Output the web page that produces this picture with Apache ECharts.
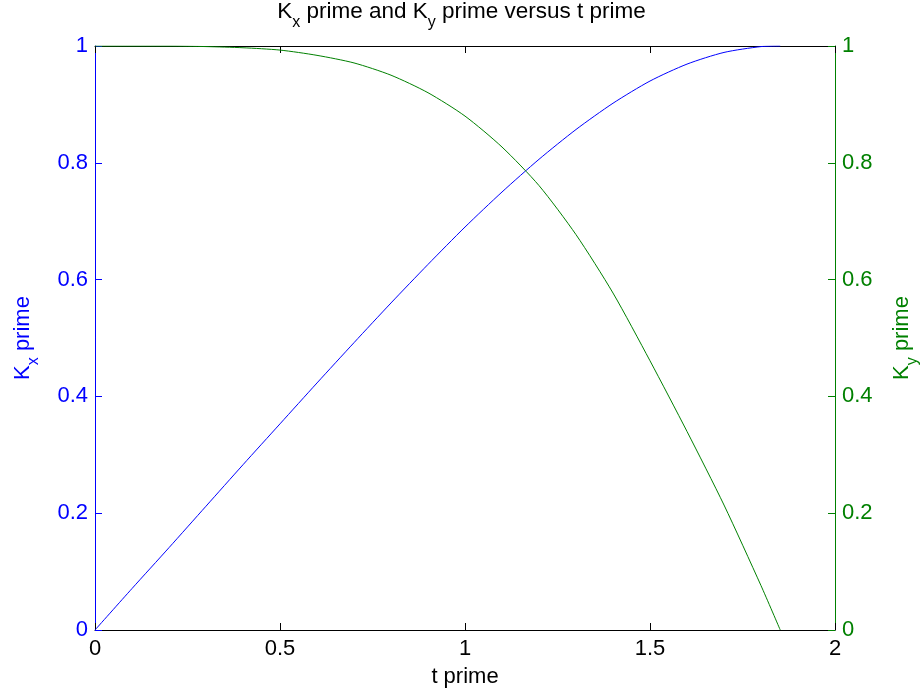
<!DOCTYPE html>
<html>
<head>
<meta charset="utf-8">
<script src="https://cdn.jsdelivr.net/npm/echarts@6/dist/echarts.min.js"></script>
<style>
  html, body { margin: 0; padding: 0; background: #fff; }
  #chart { width: 923px; height: 697px; }
</style>
</head>
<body>
<div id="chart"></div>
<script>
// values (both curves meet their limits at t' = 1.852)
const tPrime = [0, 0.1, 0.2, 0.3, 0.4, 0.5, 0.6, 0.7, 0.8, 0.9, 1.0, 1.1, 1.2, 1.3, 1.4, 1.5, 1.6, 1.7, 1.8, 1.852];
const kxPrime = [0, 0.071, 0.141, 0.212, 0.283, 0.353, 0.423, 0.492, 0.560, 0.626, 0.690, 0.750, 0.806, 0.857, 0.902, 0.940, 0.969, 0.989, 0.999, 1];
const kyPrime = [1, 1, 1, 0.999, 0.997, 0.993, 0.984, 0.971, 0.950, 0.920, 0.880, 0.827, 0.761, 0.677, 0.577, 0.461, 0.340, 0.214, 0.076, 0];
const xTicks = [0, 0.5, 1, 1.5, 2];
const yTicks = [0, 0.2, 0.4, 0.6, 0.8, 1];

const BLUE = '#0000ff';
const GREEN = '#008000';
const FONT = 'Liberation Sans, Arial, Helvetica, sans-serif';

function pairs(xs, ys) {
    return xs.map((x, i) => [x, ys[i]]);
}

// rich text styles for subscripts
function richFor(color, size, subSize) {
    return {
        n: { fontFamily: FONT, fontSize: size, fontWeight: 'normal', color: color, lineHeight: size + 2 },
        s: { fontFamily: FONT, fontSize: subSize, fontWeight: 'normal', color: color, lineHeight: size + 2, padding: [21, 0, 0, 0] }
    };
}

const chart = echarts.init(document.getElementById('chart'), null, { renderer: 'canvas' });

const option = {
    animation: false,
    backgroundColor: '#fff',
    title: {
        text: '{n|K}{s|x}{n| prime and K}{s|y}{n| prime versus t prime}',
        left: 'center',
        top: 0,
        padding: 0,
        textStyle: { fontWeight: 'normal', rich: richFor('#000', 22.5, 16) }
    },
    grid: { left: 95, right: 88, top: 46, bottom: 67, containLabel: false, outerBoundsMode: 'none' },
    xAxis: [
        {
            type: 'value',
            position: 'bottom',
            min: xTicks[0],
            max: xTicks[xTicks.length - 1],
            interval: 0.5,
            name: 't prime',
            nameLocation: 'middle',
            nameGap: 36,
            nameTextStyle: { fontFamily: FONT, fontSize: 22, color: '#000' },
            axisLine: { onZero: false, lineStyle: { color: '#000', width: 1 } },
            axisTick: { inside: true, length: 7, lineStyle: { color: '#000' } },
            axisLabel: { margin: 8, fontFamily: FONT, fontSize: 22, color: '#000' },
            splitLine: { show: false }
        },
        {
            type: 'value',
            position: 'top',
            min: xTicks[0],
            max: xTicks[xTicks.length - 1],
            interval: 0.5,
            axisLine: { onZero: false, lineStyle: { color: '#000', width: 1 } },
            axisTick: { inside: true, length: 7, lineStyle: { color: '#000' } },
            axisLabel: { show: false },
            splitLine: { show: false }
        }
    ],
    yAxis: [
        {
            type: 'value',
            position: 'left',
            min: yTicks[0],
            max: yTicks[yTicks.length - 1],
            interval: 0.2,
            name: '{n|K}{s|x}{n| prime}',
            nameLocation: 'middle',
            nameRotate: 90,
            nameGap: 60,
            nameTextStyle: { rich: richFor(BLUE, 22, 16) },
            axisLine: { onZero: false, lineStyle: { color: BLUE, width: 1 } },
            axisTick: { inside: true, length: 7, lineStyle: { color: BLUE } },
            axisLabel: { margin: 7, fontFamily: FONT, fontSize: 22, color: BLUE },
            splitLine: { show: false }
        },
        {
            type: 'value',
            position: 'right',
            min: yTicks[0],
            max: yTicks[yTicks.length - 1],
            interval: 0.2,
            name: '{n|K}{s|y}{n| prime}',
            nameLocation: 'middle',
            nameRotate: 90,
            nameGap: 55,
            nameTextStyle: { rich: richFor(GREEN, 22, 16) },
            axisLine: { onZero: false, lineStyle: { color: GREEN, width: 1 } },
            axisTick: { inside: true, length: 7, lineStyle: { color: GREEN } },
            axisLabel: { margin: 7, fontFamily: FONT, fontSize: 22, color: GREEN },
            splitLine: { show: false }
        }
    ],
    series: [
        {
            name: 'Kx prime',
            type: 'line',
            xAxisIndex: 0,
            yAxisIndex: 0,
            data: pairs(tPrime, kxPrime),
            smooth: 0.25,
            showSymbol: false,
            lineStyle: { color: BLUE, width: 1 },
            itemStyle: { color: BLUE }
        },
        {
            name: 'Ky prime',
            type: 'line',
            xAxisIndex: 0,
            yAxisIndex: 1,
            data: pairs(tPrime, kyPrime),
            smooth: 0.25,
            showSymbol: false,
            lineStyle: { color: GREEN, width: 1 },
            itemStyle: { color: GREEN }
        }
    ]
};

chart.setOption(option);
</script>
</body>
</html>
